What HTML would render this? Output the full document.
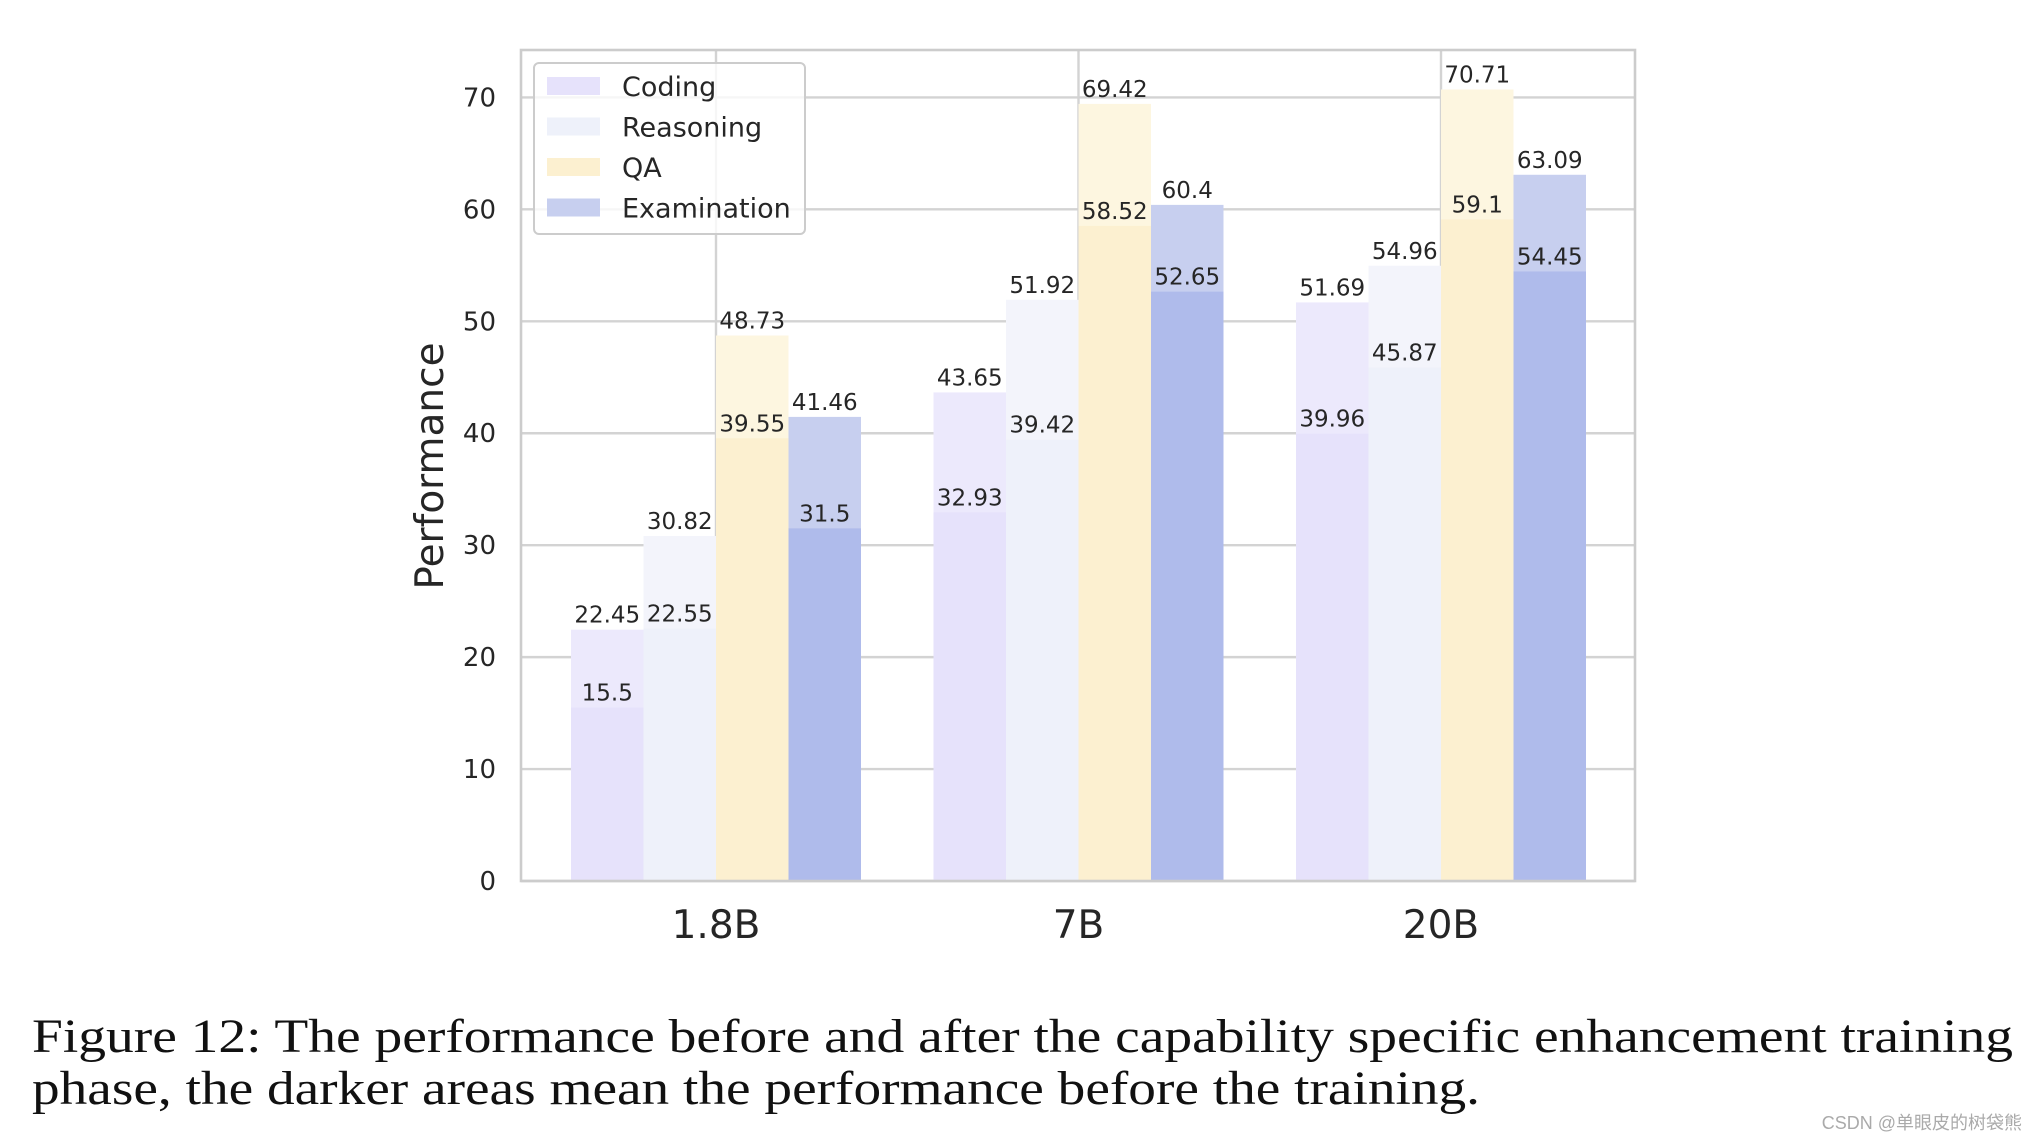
<!DOCTYPE html>
<html><head><meta charset="utf-8"><style>
html,body{margin:0;padding:0;background:#fff;}
svg{display:block;}
</style></head><body>
<svg id="chart" width="2037" height="1143" viewBox="0 0 2037 1143" xmlns="http://www.w3.org/2000/svg">
<g id="grid"></g>
<g id="bars"></g>
<g id="labels"></g>
<rect x="521" y="50" width="1114" height="831" fill="none" stroke="#cccccc" stroke-width="2.6"/>
<g id="ticks"></g>
<text x="0" y="0" transform="translate(443,466) rotate(-90)" text-anchor="middle" font-family="DejaVu Sans, Liberation Sans, sans-serif" font-size="39" fill="#262626">Performance</text>
<g id="legend">
<rect x="534" y="63" width="271" height="171" rx="5" fill="#ffffff" fill-opacity="0.8" stroke="#cccccc" stroke-width="2"/>
</g>
<text x="32" y="1052" font-family="Liberation Serif, serif" font-size="48" fill="#111" textLength="1981" lengthAdjust="spacingAndGlyphs">Figure 12: The performance before and after the capability specific enhancement training</text>
<text x="32" y="1104" font-family="Liberation Serif, serif" font-size="48" fill="#111" textLength="1448" lengthAdjust="spacingAndGlyphs">phase, the darker areas mean the performance before the training.</text>
<text x="2022" y="1129" text-anchor="end" font-family="Liberation Sans, Noto Sans CJK SC, sans-serif" font-size="18" fill="#aaaaaa">CSDN @单眼皮的树袋熊</text>
</svg>
<script>
const categories = ["1.8B", "7B", "20B"];
const seriesNames = ["Coding", "Reasoning", "QA", "Examination"];
const codingAfter = [22.45, 43.65, 51.69];
const codingBefore = [15.5, 32.93, 39.96];
const reasoningAfter = [30.82, 51.92, 54.96];
const reasoningBefore = [22.55, 39.42, 45.87];
const qaAfter = [48.73, 69.42, 70.71];
const qaBefore = [39.55, 58.52, 59.1];
const examAfter = [41.46, 60.4, 63.09];
const examBefore = [31.5, 52.65, 54.45];
const yTicks = [0, 10, 20, 30, 40, 50, 60, 70];

const NS = "http://www.w3.org/2000/svg";
const afterAll = [codingAfter, reasoningAfter, qaAfter, examAfter];
const beforeAll = [codingBefore, reasoningBefore, qaBefore, examBefore];
const lightColors = ["#ece9fc", "#f3f4fb", "#fdf6e0", "#c7cfef"];
const darkColors = ["#e6e2fb", "#eef1fa", "#fcf0d0", "#afbbeb"];
const X0 = 521, X1 = 1635, Y0 = 881, PER10 = 111.94;
function y(v){ return Y0 - v * PER10 / 10; }
const catStep = 362.5, catFirst = 716;
function xc(i){ return catFirst + i * catStep; }
const barW = catStep * 0.2;
function xb(i, s){ return xc(i) - 2 * barW + s * barW; }
function mk(tag, attrs, parent){ const e = document.createElementNS(NS, tag); for (const k in attrs) e.setAttribute(k, attrs[k]); parent.appendChild(e); return e; }

const grid = document.getElementById("grid");
const ticks = document.getElementById("ticks");
yTicks.forEach(t => {
  const l = mk("line", {x1: X0, x2: X1, y1: y(t), y2: y(t), stroke: "#d3d3d3", "stroke-width": 2.4}, grid);
  
  
  const tx = mk("text", {x: 496, y: y(t) + 9, "text-anchor": "end", "font-family": "DejaVu Sans, Liberation Sans, sans-serif", "font-size": 26, fill: "#262626"}, ticks);
  tx.textContent = t;
  
  
});
categories.forEach((c, i) => {
  const l = mk("line", {x1: xc(i), x2: xc(i), y1: 50, y2: Y0, stroke: "#d3d3d3", "stroke-width": 2.4}, grid);
  
  
  const tx = mk("text", {x: xc(i), y: 938, "text-anchor": "middle", "font-family": "DejaVu Sans, Liberation Sans, sans-serif", "font-size": 39, fill: "#262626"}, ticks);
  tx.textContent = c;
  
  
});

const bars = document.getElementById("bars");
const labels = document.getElementById("labels");
for (let s = 0; s < 4; s++) {
  for (let i = 0; i < categories.length; i++) {
    const a = afterAll[s][i], b = beforeAll[s][i];
    const r1 = mk("rect", {x: xb(i, s), y: y(a), width: barW, height: Y0 - y(a), fill: lightColors[s]}, bars);
    
    
    const r2 = mk("rect", {x: xb(i, s), y: y(b), width: barW, height: Y0 - y(b), fill: darkColors[s]}, bars);
    
    
    [a, b].forEach(v => {
      const t = mk("text", {x: xb(i, s) + barW / 2, y: y(v) - 7, "text-anchor": "middle", "font-family": "DejaVu Sans, Liberation Sans, sans-serif", "font-size": 23, fill: "#262626"}, labels);
      t.textContent = v;
      
      
    });
  }
}

const legend = document.getElementById("legend");
seriesNames.forEach((n, k) => {
  const cy = 86 + k * 40.5;
  const p = mk("rect", {x: 547, y: cy - 9, width: 53, height: 18, fill: k === 3 ? lightColors[3] : darkColors[k]}, legend);
  
  
  const t = mk("text", {x: 622, y: cy + 10, "font-family": "DejaVu Sans, Liberation Sans, sans-serif", "font-size": 27, fill: "#262626"}, legend);
  t.textContent = n;
  
  
});
</script>
</body></html>
